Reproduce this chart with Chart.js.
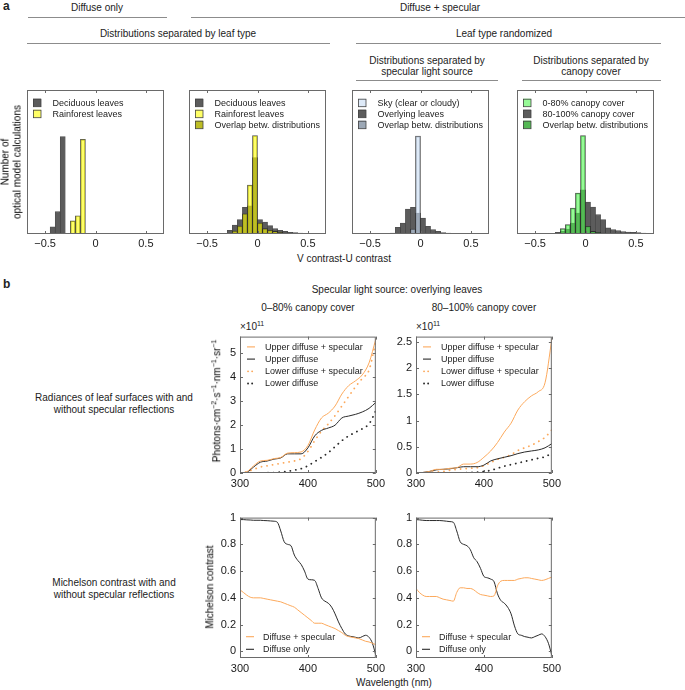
<!DOCTYPE html>
<html>
<head>
<meta charset="utf-8">
<script src="https://cdn.jsdelivr.net/npm/chart.js@4.4.0/dist/chart.umd.min.js"></script>
<style>
body { margin: 0; background: #fff; }
#fig { position: relative; width: 685px; height: 690px; overflow: hidden;
       font-family: "Liberation Sans", Arial, sans-serif; font-size: 10px; color: #222; }
.t { position: absolute; white-space: nowrap; text-align: center; line-height: 11.5px;
     transform: translate(-50%, -50%); }
.t2 { line-height: 10.5px; }
.rot { transform: translate(-50%, -50%) rotate(-90deg); will-change: transform; color: #000; }
.a { position: absolute; white-space: nowrap; line-height: 12px; }
.hl { position: absolute; height: 0; border-top: 1px solid #8c8c8c; }
.pl { position: absolute; font-weight: bold; font-size: 12px; }
sup { font-size: 7px; line-height: 0; vertical-align: 0; position: relative; top: -4px; }
canvas { position: absolute; }
</style>
</head>
<body>
<div id="fig">
  <div class="pl" style="left:3px;top:-1px">a</div>
  <div class="t" style="left:97px;top:7.5px">Diffuse only</div>
  <div class="hl" style="left:28px;top:17px;width:139px"></div>
  <div class="t" style="left:440px;top:7.5px">Diffuse + specular</div>
  <div class="hl" style="left:191px;top:17px;width:494px"></div>
  <div class="t" style="left:178px;top:33.5px">Distributions separated by leaf type</div>
  <div class="hl" style="left:27px;top:43px;width:303px"></div>
  <div class="t" style="left:504px;top:33.5px">Leaf type randomized</div>
  <div class="hl" style="left:356px;top:43px;width:305px"></div>
  <div class="t t2" style="left:427px;top:66px">Distributions separated by<br>specular light source</div>
  <div class="hl" style="left:356px;top:80px;width:142px"></div>
  <div class="t t2" style="left:591px;top:66px">Distributions separated by<br>canopy cover</div>
  <div class="hl" style="left:522px;top:80px;width:139px"></div>

  <div class="t rot" style="left:11px;top:162px">Number of<br>optical model calculations</div>
  <div class="t" style="left:344px;top:259px">V contrast-U contrast</div>

  <div class="pl" style="left:3px;top:277px">b</div>
  <div class="t" style="left:397px;top:290px">Specular light source: overlying leaves</div>
  <div class="t" style="left:308px;top:308px">0–80% canopy cover</div>
  <div class="t" style="left:484px;top:308px">80–100% canopy cover</div>
  <div class="a" style="left:240px;top:321px">×10<sup>11</sup></div>
  <div class="a" style="left:416px;top:321px">×10<sup>11</sup></div>

  <div class="t" style="left:114px;top:403px">Radiances of leaf surfaces with and<br>without specular reflections</div>
  <div class="t" style="left:114px;top:588px">Michelson contrast with and<br>without specular reflections</div>
  <div class="t rot" style="left:217px;top:401px">Photons·cm<sup>−2</sup>·s<sup>−1</sup>·nm<sup>−1</sup>·sr<sup>−1</sup></div>
  <div class="t rot" style="left:210px;top:587px">Michelson contrast</div>
  <div class="t" style="left:394px;top:683px">Wavelength (nm)</div>
</div>

<script>
// histogram bins (V contrast - U contrast), bin width 0.05
const binCenters = [-0.625, -0.575, -0.525, -0.475, -0.425, -0.375, -0.325, -0.275, -0.225, -0.175, -0.125, -0.075, -0.025,
    0.025, 0.075, 0.125, 0.175, 0.225, 0.275, 0.325, 0.375, 0.425, 0.475, 0.525, 0.575, 0.625];
const histTicks = [-0.5, 0, 0.5];

// diffuse only
const diffDeciduous = [0, 0, 0, 0, 0.05, 0.155, 0.677, 0, 0, 0, 0, 0, 0, 0, 0, 0, 0, 0, 0, 0, 0, 0, 0, 0, 0, 0];
const diffRainforest = [0, 0, 0, 0, 0, 0, 0, 0, 0.092, 0.127, 0.658, 0, 0, 0, 0, 0, 0, 0, 0, 0, 0, 0, 0, 0, 0, 0];
// diffuse + specular, by leaf type
const specDeciduous = [0, 0, 0, 0, 0, 0, 0.005, 0.025, 0.062, 0.1, 0.185, 0.196, 0.531, 0.1, 0.083, 0.058, 0.037, 0.025, 0.018,
    0.012, 0.01, 0.007, 0.005, 0.004, 0.003, 0.002];
const specRainforest = [0, 0, 0, 0, 0, 0, 0, 0.005, 0.02, 0.055, 0.14, 0.34, 0.684, 0.076, 0.037, 0.025, 0.018, 0.012, 0.007,
    0.005, 0.004, 0.003, 0.002, 0.001, 0.001, 0];
// leaf type randomized, by specular light source
const srcSky = [0, 0, 0, 0, 0, 0, 0, 0, 0, 0, 0, 0.035, 0.68, 0, 0, 0, 0, 0, 0, 0, 0, 0, 0, 0, 0, 0];
const srcLeaves = [0, 0, 0, 0, 0, 0, 0, 0.007, 0.046, 0.076, 0.173, 0.185, 0.145, 0.11, 0.053, 0.03, 0.018, 0.01, 0.007,
    0.005, 0.004, 0.003, 0.003, 0.002, 0.002, 0.001];
// leaf type randomized, by canopy cover
const canopyLow = [0, 0, 0, 0, 0, 0, 0, 0, 0.037, 0.065, 0.18, 0.284, 0.684, 0.053, 0.018, 0.012, 0.007, 0.005, 0.003,
    0.002, 0, 0, 0, 0, 0, 0];
const canopyHigh = [0, 0, 0, 0, 0, 0, 0, 0.012, 0.018, 0.035, 0.076, 0.145, 0.307, 0.222, 0.187, 0.134, 0.1, 0.042, 0.03,
    0.023, 0.016, 0.014, 0.012, 0.009, 0.007, 0.005];

// radiances (x10^11), 10 nm steps
const wlRad = [300, 310, 320, 330, 340, 350, 360, 370, 380, 390, 400, 410, 420, 430, 440, 450, 460, 470, 480, 490, 500];
const radTicks0 = [0, 1, 2, 3, 4, 5];
const radTicks80 = [0, 0.5, 1, 1.5, 2, 2.5];
const rad0UpperSpec = [0, 0.05, 0.3, 0.5, 0.53, 0.6, 0.65, 0.83, 0.85, 0.88, 1.15, 1.8, 2.3, 2.5, 2.8, 3.3, 3.65, 3.85, 4.1, 4.6, 5.6];
const rad0Upper = [0, 0.03, 0.25, 0.45, 0.5, 0.58, 0.63, 0.8, 0.8, 0.8, 1.05, 1.55, 1.78, 1.88, 2.0, 2.3, 2.38, 2.45, 2.55, 2.7, 2.95];
const rad0LowerSpec = [0, 0.05, 0.15, 0.25, 0.3, 0.35, 0.4, 0.45, 0.5, 0.6, 0.9, 1.35, 1.75, 2.05, 2.4, 2.8, 3.2, 3.6, 3.95, 4.3, 5.5];
const rad0Lower = [0, 0, 0, 0, 0.01, 0.02, 0.04, 0.07, 0.12, 0.18, 0.3, 0.48, 0.65, 0.85, 1.1, 1.35, 1.55, 1.7, 1.85, 2.05, 2.6];
const rad80UpperSpec = [0, 0.01, 0.03, 0.07, 0.07, 0.09, 0.1, 0.17, 0.17, 0.2, 0.3, 0.42, 0.58, 0.78, 0.95, 1.2, 1.36, 1.47, 1.55, 1.72, 2.55];
const rad80Upper = [0, 0.01, 0.03, 0.06, 0.07, 0.08, 0.1, 0.12, 0.12, 0.12, 0.15, 0.23, 0.27, 0.3, 0.33, 0.37, 0.4, 0.42, 0.44, 0.48, 0.56];
const rad80LowerSpec = [0, 0, 0.01, 0.02, 0.03, 0.05, 0.07, 0.08, 0.09, 0.1, 0.14, 0.2, 0.26, 0.3, 0.35, 0.43, 0.48, 0.53, 0.6, 0.68, 0.82];
const rad80Lower = [0, 0, 0, 0, 0, 0, 0, 0.005, 0.01, 0.015, 0.03, 0.05, 0.09, 0.13, 0.16, 0.19, 0.22, 0.25, 0.28, 0.31, 0.38];

// Michelson contrast, 5 nm steps
const wlMich = [300, 305, 310, 315, 320, 325, 330, 335, 340, 345, 350, 355, 360, 365, 370, 375, 380, 385, 390, 395, 400,
    405, 410, 415, 420, 425, 430, 435, 440, 445, 450, 455, 460, 465, 470, 475, 480, 485, 490, 495, 500];
const michTicks = [0, 0.2, 0.4, 0.6, 0.8, 1];
const wlTicks = [300, 400, 500];
const mich0Spec = [0.46, 0.44, 0.42, 0.405, 0.4, 0.4, 0.4, 0.395, 0.39, 0.385, 0.38, 0.375, 0.37, 0.36, 0.35, 0.34, 0.33,
    0.31, 0.29, 0.27, 0.25, 0.23, 0.21, 0.21, 0.21, 0.2, 0.19, 0.18, 0.17, 0.155, 0.14, 0.12, 0.11, 0.105, 0.1, 0.095,
    0.085, 0.075, 0.07, 0.06, 0.05];
const mich0Diff = [0.985, 0.985, 0.983, 0.982, 0.98, 0.98, 0.98, 0.978, 0.977, 0.975, 0.973, 0.965, 0.9, 0.82, 0.8, 0.79,
    0.72, 0.68, 0.65, 0.6, 0.54, 0.535, 0.53, 0.47, 0.4, 0.375, 0.36, 0.33, 0.28, 0.22, 0.17, 0.13, 0.115, 0.11, 0.105,
    0.1, 0.11, 0.12, 0.105, 0.06, -0.03];
const mich80Spec = [0.47, 0.44, 0.42, 0.41, 0.41, 0.41, 0.41, 0.4, 0.39, 0.385, 0.38, 0.375, 0.44, 0.475, 0.475, 0.47, 0.47,
    0.46, 0.44, 0.425, 0.42, 0.415, 0.41, 0.415, 0.49, 0.525, 0.53, 0.53, 0.53, 0.53, 0.54, 0.545, 0.55, 0.55, 0.545,
    0.54, 0.535, 0.53, 0.535, 0.545, 0.555];
const mich80Diff = [0.985, 0.983, 0.98, 0.978, 0.978, 0.978, 0.978, 0.978, 0.976, 0.973, 0.97, 0.965, 0.9, 0.82, 0.8, 0.79,
    0.76, 0.7, 0.67, 0.62, 0.56, 0.55, 0.54, 0.52, 0.43, 0.38, 0.36, 0.33, 0.28, 0.19, 0.13, 0.12, 0.11, 0.105, 0.1,
    0.11, 0.12, 0.13, 0.11, 0.06, -0.03];

const FONT = '"Liberation Sans", Arial, sans-serif';
const GRAY = 'rgb(92,92,92)';
const ORANGE = '#fca95c';
const BLACK = '#2a2a2a';
const fig = document.getElementById('fig');

function makeCanvas(x, y, w, h) {
    var c = document.createElement('canvas');
    c.width = w; c.height = h;
    c.style.left = x + 'px'; c.style.top = y + 'px';
    c.style.width = w + 'px'; c.style.height = h + 'px';
    fig.appendChild(c);
    return c;
}

function fmt(v) {
    return v < 0 ? '\u2212' + Math.abs(v) : String(v);
}

// MATLAB-like box with inward ticks
function boxPlugin(xt, yt) {
    return {
        id: 'boxAxes',
        afterDatasetsDraw: function (chart) {
            var ctx = chart.ctx, a = chart.chartArea;
            var sx = chart.scales.x, sy = chart.scales.y;
            ctx.save();
            ctx.strokeStyle = '#6a6a6a';
            ctx.lineWidth = 1;
            ctx.strokeRect(a.left + 0.5, a.top + 0.5, a.right - a.left - 1, a.bottom - a.top - 1);
            ctx.beginPath();
            xt.forEach(function (v) {
                var p = Math.round(sx.getPixelForValue(v)) + 0.5;
                ctx.moveTo(p, a.bottom); ctx.lineTo(p, a.bottom - 3);
                ctx.moveTo(p, a.top); ctx.lineTo(p, a.top + 3);
            });
            yt.forEach(function (v) {
                var p = Math.round(sy.getPixelForValue(v)) + 0.5;
                ctx.moveTo(a.left, p); ctx.lineTo(a.left + 3, p);
                ctx.moveTo(a.right, p); ctx.lineTo(a.right - 3, p);
            });
            ctx.stroke();
            ctx.restore();
        }
    };
}

// legend drawn inside the axes
function legendPlugin(items, cfg) {
    return {
        id: 'inLegend',
        afterDraw: function (chart) {
            var ctx = chart.ctx, a = chart.chartArea;
            ctx.save();
            ctx.font = '9px ' + FONT;
            ctx.textBaseline = 'middle';
            items.forEach(function (it, i) {
                var y = (cfg.fromBottom ? a.bottom - cfg.y : a.top + cfg.y) + i * cfg.step;
                var x = a.left + cfg.x;
                if (it.box) {
                    ctx.fillStyle = it.box;
                    ctx.fillRect(x, y - 4, 8, 8);
                    ctx.strokeStyle = '#444';
                    ctx.lineWidth = 0.8;
                    ctx.strokeRect(x + 0.5, y - 3.5, 7.5, 7.5);
                } else {
                    ctx.strokeStyle = it.line;
                    ctx.lineWidth = it.dash ? 1.8 : 1.1;
                    ctx.lineCap = it.dash ? 'round' : 'butt';
                    ctx.setLineDash(it.dash ? [0.1, 4] : []);
                    ctx.beginPath();
                    ctx.moveTo(x + (it.dash ? 1 : 0), y); ctx.lineTo(x + 8, y);
                    ctx.stroke();
                    ctx.setLineDash([]);
                }
                ctx.fillStyle = '#222';
                ctx.fillText(it.label, x + cfg.tx, y + 0.5);
            });
            ctx.restore();
        }
    };
}

function histogram(L, sets, legendItems) {
    var T = 90, W = 137, H = 144;
    var cv = makeCanvas(L - 2, T - 2, W + 4, H + 2 + 20);
    new Chart(cv, {
        type: 'bar',
        data: {
            datasets: sets.map(function (s) {
                return {
                    label: s.label,
                    data: binCenters.map(function (x, i) { return { x: x, y: s.values[i] || null }; }),
                    backgroundColor: s.color,
                    borderColor: 'rgba(35,35,35,0.8)',
                    borderWidth: 0.8,
                    grouped: false,
                    barPercentage: 1,
                    categoryPercentage: 1,
                    order: s.order
                };
            })
        },
        options: {
            responsive: false, animation: false, devicePixelRatio: 1,
            layout: { padding: { left: 2, right: 2, top: 2, bottom: 0 }, autoPadding: false },
            scales: {
                x: {
                    type: 'linear', min: -0.68, max: 0.68, offset: false,
                    afterBuildTicks: function (s) { s.ticks = histTicks.map(function (v) { return { value: v }; }); },
                    afterFit: function (s) { s.height = 20; },
                    grid: { display: false, drawTicks: false }, border: { display: false },
                    ticks: { padding: 3, color: '#1a1a1a', font: { size: 11, family: FONT }, callback: fmt,
                             maxRotation: 0, autoSkip: false }
                },
                y: { display: false, min: 0, max: 1 }
            },
            plugins: { legend: { display: false }, tooltip: { enabled: false } }
        },
        plugins: [boxPlugin(histTicks, []), legendPlugin(legendItems, { x: 6, y: 12.7, step: 11, tx: 19.5 })]
    });
}

function lineChart(L, T, H, yMin, yMax, yTicks, xs, series, legendItems, legendCfg) {
    var W = 137;
    var cv = makeCanvas(L - 30, T - 8, 30 + W + 12, 8 + H + 20);
    new Chart(cv, {
        type: 'line',
        data: {
            datasets: series.map(function (s) {
                return {
                    label: s.label,
                    data: xs.map(function (x, i) { return { x: x, y: s.values[i] }; }),
                    borderColor: s.color,
                    borderWidth: s.dotted ? 1.8 : 1,
                    borderDash: s.dotted ? [0.1, 5.5] : [],
                    borderCapStyle: s.dotted ? 'round' : 'butt',
                    pointRadius: 0,
                    tension: 0.25,
                    cubicInterpolationMode: 'monotone',
                    fill: false
                };
            })
        },
        options: {
            responsive: false, animation: false, devicePixelRatio: 1,
            layout: { padding: { left: 0, right: 12, top: 8, bottom: 0 }, autoPadding: false },
            scales: {
                x: {
                    type: 'linear', min: 300, max: 500,
                    afterBuildTicks: function (s) { s.ticks = wlTicks.map(function (v) { return { value: v }; }); },
                    afterFit: function (s) { s.height = 20; },
                    grid: { display: false, drawTicks: false }, border: { display: false },
                    ticks: { padding: 4, color: '#1a1a1a', font: { size: 11, family: FONT }, maxRotation: 0, autoSkip: false }
                },
                y: {
                    type: 'linear', min: yMin, max: yMax,
                    afterBuildTicks: function (s) { s.ticks = yTicks.map(function (v) { return { value: v }; }); },
                    afterFit: function (s) { s.width = 30; },
                    grid: { display: false, drawTicks: false }, border: { display: false },
                    ticks: { padding: 4, color: '#1a1a1a', font: { size: 11, family: FONT }, callback: fmt, autoSkip: false }
                }
            },
            plugins: { legend: { display: false }, tooltip: { enabled: false } }
        },
        plugins: [boxPlugin(wlTicks, yTicks), legendPlugin(legendItems, legendCfg)]
    });
}

// panel a
histogram(27, [
    { label: 'Deciduous leaves', values: diffDeciduous, color: GRAY, order: 2 },
    { label: 'Rainforest leaves', values: diffRainforest, color: 'rgba(255,255,0,0.6)', order: 1 }
], [
    { label: 'Deciduous leaves', box: GRAY },
    { label: 'Rainforest leaves', box: 'rgb(255,255,102)' }
]);
histogram(189, [
    { label: 'Deciduous leaves', values: specDeciduous, color: GRAY, order: 2 },
    { label: 'Rainforest leaves', values: specRainforest, color: 'rgba(255,255,0,0.6)', order: 1 }
], [
    { label: 'Deciduous leaves', box: GRAY },
    { label: 'Rainforest leaves', box: 'rgb(255,255,102)' },
    { label: 'Overlap betw. distributions', box: 'rgb(189,189,36)' }
]);
histogram(352, [
    { label: 'Overlying leaves', values: srcLeaves, color: GRAY, order: 2 },
    { label: 'Sky (clear or cloudy)', values: srcSky, color: 'rgba(200,220,243,0.6)', order: 1 }
], [
    { label: 'Sky (clear or cloudy)', box: 'rgb(222,234,248)' },
    { label: 'Overlying leaves', box: GRAY },
    { label: 'Overlap betw. distributions', box: 'rgb(156,168,182)' }
]);
histogram(517, [
    { label: '80-100% canopy cover', values: canopyHigh, color: GRAY, order: 2 },
    { label: '0-80% canopy cover', values: canopyLow, color: 'rgba(80,247,80,0.6)', order: 1 }
], [
    { label: '0-80% canopy cover', box: 'rgb(150,250,150)' },
    { label: '80-100% canopy cover', box: GRAY },
    { label: 'Overlap betw. distributions', box: 'rgb(84,184,84)' }
]);

// panel b
var radLegend = [
    { label: 'Upper diffuse + specular', line: ORANGE },
    { label: 'Upper diffuse', line: BLACK },
    { label: 'Lower diffuse + specular', line: ORANGE, dash: true },
    { label: 'Lower diffuse', line: BLACK, dash: true }
];
lineChart(240, 334, 139, 0, 5.7, radTicks0, wlRad, [
    { label: 'Upper diffuse + specular', values: rad0UpperSpec, color: ORANGE },
    { label: 'Upper diffuse', values: rad0Upper, color: BLACK },
    { label: 'Lower diffuse + specular', values: rad0LowerSpec, color: ORANGE, dotted: true },
    { label: 'Lower diffuse', values: rad0Lower, color: BLACK, dotted: true }
], radLegend, { x: 7, y: 10.3, step: 12.2, tx: 18 });
lineChart(416, 334, 139, 0, 2.6, radTicks80, wlRad, [
    { label: 'Upper diffuse + specular', values: rad80UpperSpec, color: ORANGE },
    { label: 'Upper diffuse', values: rad80Upper, color: BLACK },
    { label: 'Lower diffuse + specular', values: rad80LowerSpec, color: ORANGE, dotted: true },
    { label: 'Lower diffuse', values: rad80Lower, color: BLACK, dotted: true }
], radLegend, { x: 7, y: 10.3, step: 12.2, tx: 18 });

var michLegend = [
    { label: 'Diffuse + specular', line: ORANGE },
    { label: 'Diffuse only', line: BLACK }
];
lineChart(240, 515, 143, -0.05, 1.0, michTicks, wlMich, [
    { label: 'Diffuse + specular', values: mich0Spec, color: ORANGE },
    { label: 'Diffuse only', values: mich0Diff, color: BLACK }
], michLegend, { x: 6, y: 21.3, step: 12.6, tx: 17, fromBottom: true });
lineChart(416, 515, 143, -0.05, 1.0, michTicks, wlMich, [
    { label: 'Diffuse + specular', values: mich80Spec, color: ORANGE },
    { label: 'Diffuse only', values: mich80Diff, color: BLACK }
], michLegend, { x: 6, y: 21.3, step: 12.6, tx: 17, fromBottom: true });
</script>
</body>
</html>
